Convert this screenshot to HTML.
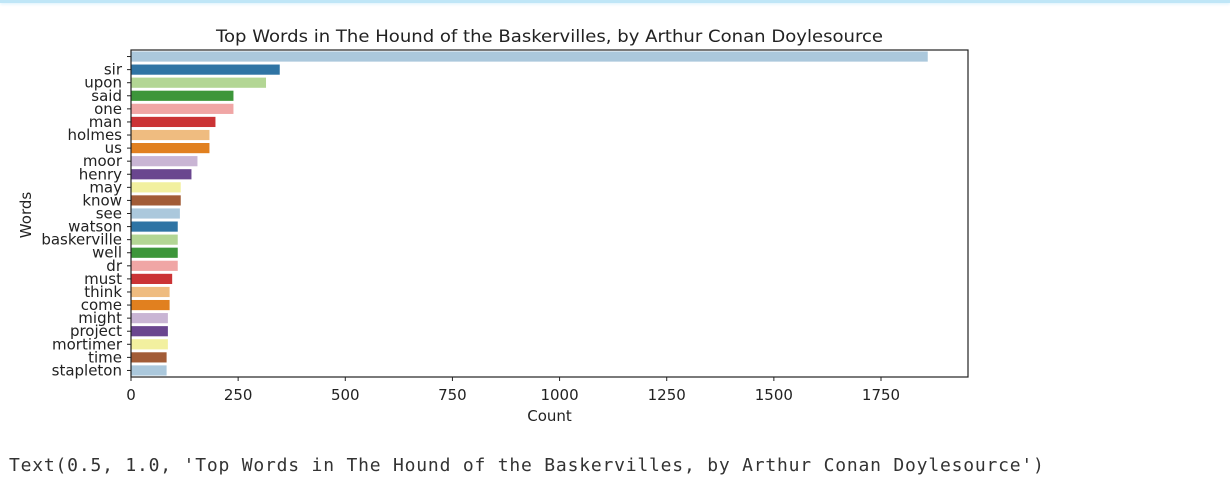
<!DOCTYPE html>
<html><head><meta charset="utf-8"><style>
body{margin:0;background:#fff;width:1230px;height:501px;overflow:hidden;position:relative;font-family:"DejaVu Sans","Liberation Sans",sans-serif}
#topbar{position:absolute;left:0;top:0;width:1230px;height:3px;background:#bfe6f7;box-shadow:0 1px 3px #d6f0fb}
#out{position:absolute;left:9px;top:455px;font-family:"DejaVu Sans Mono","Liberation Mono",monospace;font-size:18px;color:#333;white-space:pre;letter-spacing:0.8px}
</style></head><body>
<div id="topbar"></div>
<svg id="chart" width="1230" height="501" style="position:absolute;left:0;top:0"></svg>
<div id="out">Text(0.5, 1.0, 'Top Words in The Hound of the Baskervilles, by Arthur Conan Doylesource')</div>
<script>
const categories=["","sir","upon","said","one","man","holmes","us","moor","henry","may","know","see","watson","baskerville","well","dr","must","think","come","might","project","mortimer","time","stapleton"];
const counts=[1860,348,316,240,240,198,184,184,156,142,117,117,115,110,110,110,110,97,91,91,87,87,87,84,84];
const xTicks=[0,250,500,750,1000,1250,1500,1750];
const colors=["#abc8dc","#2f74a4","#b3d694","#3d963a","#f0a6a5","#cb3335","#efbc80","#e1801f","#c9b5d4","#6a468f","#f2f09f","#a25c37"];
const NS="http://www.w3.org/2000/svg";
const svg=document.getElementById('chart');
const L=131,R=968,T=50,B=377;
const n=categories.length;
const band=(B-T)/n;
const x=v=>L+v*(750/1750);
const y=i=>T+band*i;
function mk(tag,a,parent){const e=document.createElementNS(NS,tag);for(const k in a)e.setAttribute(k,a[k]);(parent||svg).appendChild(e);return e;}
counts.forEach((v,i)=>{
  const r=mk('rect',{x:L,y:y(i)+band*0.08,width:x(v)-L,height:band*0.84,fill:colors[i%colors.length],stroke:'#fff','stroke-width':0.8});
  
  
  const t=mk('line',{x1:L-4,x2:L,y1:y(i)+band/2,y2:y(i)+band/2,stroke:'#222','stroke-width':1});
  
  
  const lb=mk('text',{x:L-9,y:y(i)+band/2+5,'text-anchor':'end','font-size':15,fill:'#222'});
  lb.textContent=categories[i];
  
  
});
xTicks.forEach(v=>{
  const t=mk('line',{x1:x(v),x2:x(v),y1:B,y2:B+4,stroke:'#222','stroke-width':1});
  
  
  const lb=mk('text',{x:x(v),y:B+23,'text-anchor':'middle','font-size':15,fill:'#222'});
  lb.textContent=v;
  
  
});
const frame=mk('rect',{x:L,y:T,width:R-L,height:B-T,fill:'none',stroke:'#222','stroke-width':1.2});


const title=mk('text',{x:(L+R)/2,y:42,'text-anchor':'middle','font-size':17,fill:'#222',textLength:667,lengthAdjust:'spacingAndGlyphs'});
title.textContent='Top Words in The Hound of the Baskervilles, by Arthur Conan Doylesource';


const xl=mk('text',{x:(L+R)/2,y:421,'text-anchor':'middle','font-size':15,fill:'#222'});
xl.textContent='Count';


const yl=mk('text',{x:0,y:0,'text-anchor':'middle','font-size':15,fill:'#222',transform:'translate(31,215) rotate(-90)'});
yl.textContent='Words';


</script>
</body></html>
